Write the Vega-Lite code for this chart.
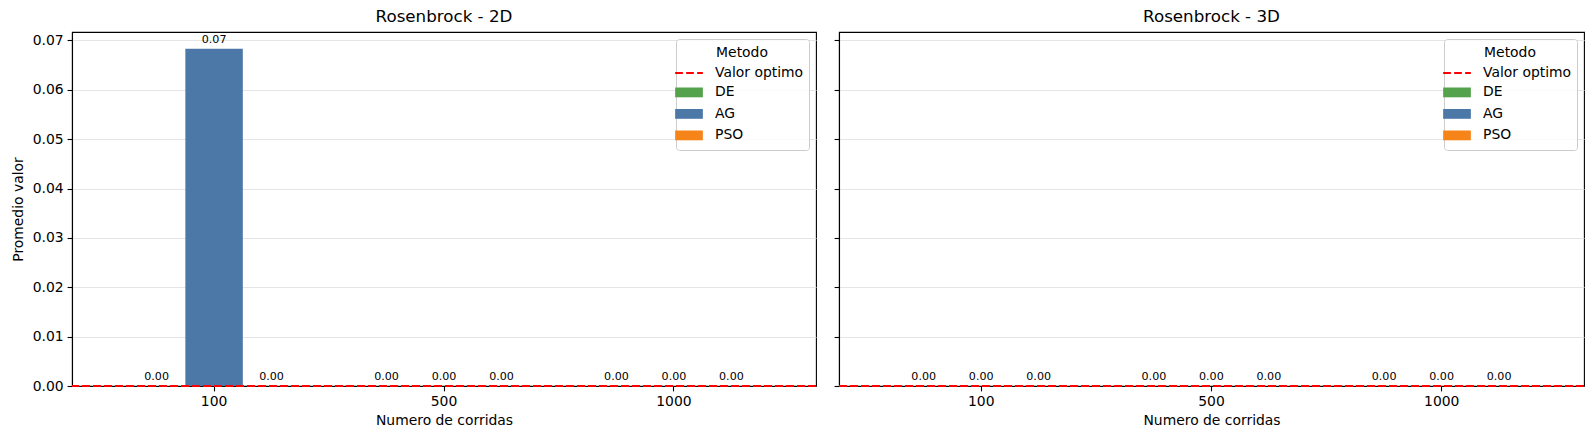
{
  "$schema": "https://vega.github.io/schema/vega-lite/v6.json",
  "description": "Rosenbrock - promedio valor por metodo y numero de corridas",
  "padding": {"left": 10, "top": 8, "right": 4, "bottom": 4},
  "spacing": 15,
  "datasets": {
    "resultados": [
      {"Panel": "2D", "Corridas": "100", "Metodo": "DE", "Valor": 0.0},
      {"Panel": "2D", "Corridas": "100", "Metodo": "AG", "Valor": 0.0683},
      {"Panel": "2D", "Corridas": "100", "Metodo": "PSO", "Valor": 0.0},
      {"Panel": "2D", "Corridas": "500", "Metodo": "DE", "Valor": 0.0},
      {"Panel": "2D", "Corridas": "500", "Metodo": "AG", "Valor": 0.0},
      {"Panel": "2D", "Corridas": "500", "Metodo": "PSO", "Valor": 0.0},
      {"Panel": "2D", "Corridas": "1000", "Metodo": "DE", "Valor": 0.0},
      {"Panel": "2D", "Corridas": "1000", "Metodo": "AG", "Valor": 0.0},
      {"Panel": "2D", "Corridas": "1000", "Metodo": "PSO", "Valor": 0.0},
      {"Panel": "3D", "Corridas": "100", "Metodo": "DE", "Valor": 0.0},
      {"Panel": "3D", "Corridas": "100", "Metodo": "AG", "Valor": 0.0},
      {"Panel": "3D", "Corridas": "100", "Metodo": "PSO", "Valor": 0.0},
      {"Panel": "3D", "Corridas": "500", "Metodo": "DE", "Valor": 0.0},
      {"Panel": "3D", "Corridas": "500", "Metodo": "AG", "Valor": 0.0},
      {"Panel": "3D", "Corridas": "500", "Metodo": "PSO", "Valor": 0.0},
      {"Panel": "3D", "Corridas": "1000", "Metodo": "DE", "Valor": 0.0},
      {"Panel": "3D", "Corridas": "1000", "Metodo": "AG", "Valor": 0.0},
      {"Panel": "3D", "Corridas": "1000", "Metodo": "PSO", "Valor": 0.0}
    ]
  },
  "hconcat": [
    {
      "title": "Rosenbrock - 2D",
      "width": 744,
      "height": 354,
      "data": {"name": "resultados"},
      "transform": [{"filter": "datum.Panel === '2D'"}],
      "encoding": {
        "x": {
          "field": "Corridas", "type": "nominal", "sort": ["100", "500", "1000"],
          "scale": {"paddingInner": 0.25, "paddingOuter": 0.243},
          "axis": {"title": "Numero de corridas", "labelAngle": 0}
        },
        "xOffset": {
          "field": "Metodo", "type": "nominal",
          "scale": {"domain": ["DE", "AG", "PSO"], "paddingInner": 0, "paddingOuter": 0}
        },
        "y": {
          "field": "Valor", "type": "quantitative",
          "scale": {"domain": [0, 0.0717], "nice": false, "zero": true},
          "axis": {"title": "Promedio valor", "format": ".2f", "values": [0, 0.01, 0.02, 0.03, 0.04, 0.05, 0.06, 0.07]}
        }
      },
      "layer": [
        {
          "mark": {"type": "bar"},
          "encoding": {
            "color": {
              "field": "Metodo", "type": "nominal",
              "scale": {"domain": ["Valor optimo", "DE", "AG", "PSO"], "range": ["red", "#54a24b", "#4c78a8", "#f58518"]},
              "legend": {
                "title": "Metodo",
                "orient": "top-right",
                "offset": 7,
                "titleAnchor": "middle",
                "padding": 5,
                "strokeColor": "#cccccc",
                "fillColor": "rgba(255,255,255,0.8)",
                "cornerRadius": 3,
                "symbolSize": 196,
                "labelOffset": 18,
                "rowPadding": 3.5,
                "encode": {
                  "title": {"update": {"dy": {"value": 2}}},
                  "symbols": {
                    "update": {
                      "shape": {"signal": "datum.value === 'Valor optimo' ? 'M-1.98,0H1.98' : 'M-1.98,-0.7H1.98V0.7H-1.98Z'"},
                      "stroke": {"signal": "datum.value === 'Valor optimo' ? 'red' : 'transparent'"},
                      "strokeWidth": {"value": 2},
                      "strokeDash": {"signal": "datum.value === 'Valor optimo' ? [7.7, 3.3] : [1, 0]"},
                      "fill": {"signal": "datum.value === 'Valor optimo' ? 'transparent' : datum.value === 'DE' ? '#54a24b' : datum.value === 'AG' ? '#4c78a8' : '#f58518'"},
                      "opacity": {"value": 1}
                    }
                  }
                }
              }
            }
          }
        },
        {
          "mark": {"type": "text", "baseline": "alphabetic", "dy": -6, "fontSize": 11.1, "color": "black"},
          "encoding": {"text": {"field": "Valor", "type": "quantitative", "format": ".2f"}}
        },
        {
          "mark": {"type": "rule", "color": "red", "strokeDash": [7.7, 3.3], "strokeWidth": 2},
          "encoding": {"y": {"datum": 0}, "x": null, "xOffset": null}
        }
      ]
    },
    {
      "title": "Rosenbrock - 3D",
      "width": 745,
      "height": 354,
      "data": {"name": "resultados"},
      "transform": [{"filter": "datum.Panel === '3D'"}],
      "encoding": {
        "x": {
          "field": "Corridas", "type": "nominal", "sort": ["100", "500", "1000"],
          "scale": {"paddingInner": 0.25, "paddingOuter": 0.243},
          "axis": {"title": "Numero de corridas", "labelAngle": 0}
        },
        "xOffset": {
          "field": "Metodo", "type": "nominal",
          "scale": {"domain": ["DE", "AG", "PSO"], "paddingInner": 0, "paddingOuter": 0}
        },
        "y": {
          "field": "Valor", "type": "quantitative",
          "scale": {"domain": [0, 0.0717], "nice": false, "zero": true},
          "axis": {"title": null, "labels": false, "minExtent": 5, "maxExtent": 5, "values": [0, 0.01, 0.02, 0.03, 0.04, 0.05, 0.06, 0.07]}
        }
      },
      "layer": [
        {
          "mark": {"type": "bar"},
          "encoding": {
            "color": {
              "field": "Metodo", "type": "nominal",
              "scale": {"domain": ["Valor optimo", "DE", "AG", "PSO"], "range": ["red", "#54a24b", "#4c78a8", "#f58518"]},
              "legend": {
                "title": "Metodo",
                "orient": "top-right",
                "offset": 7,
                "titleAnchor": "middle",
                "padding": 5,
                "strokeColor": "#cccccc",
                "fillColor": "rgba(255,255,255,0.8)",
                "cornerRadius": 3,
                "symbolSize": 196,
                "labelOffset": 18,
                "rowPadding": 3.5,
                "encode": {
                  "title": {"update": {"dy": {"value": 2}}},
                  "symbols": {
                    "update": {
                      "shape": {"signal": "datum.value === 'Valor optimo' ? 'M-1.98,0H1.98' : 'M-1.98,-0.7H1.98V0.7H-1.98Z'"},
                      "stroke": {"signal": "datum.value === 'Valor optimo' ? 'red' : 'transparent'"},
                      "strokeWidth": {"value": 2},
                      "strokeDash": {"signal": "datum.value === 'Valor optimo' ? [7.7, 3.3] : [1, 0]"},
                      "fill": {"signal": "datum.value === 'Valor optimo' ? 'transparent' : datum.value === 'DE' ? '#54a24b' : datum.value === 'AG' ? '#4c78a8' : '#f58518'"},
                      "opacity": {"value": 1}
                    }
                  }
                }
              }
            }
          }
        },
        {
          "mark": {"type": "text", "baseline": "alphabetic", "dy": -6, "fontSize": 11.1, "color": "black"},
          "encoding": {"text": {"field": "Valor", "type": "quantitative", "format": ".2f"}}
        },
        {
          "mark": {"type": "rule", "color": "red", "strokeDash": [7.7, 3.3], "strokeWidth": 2},
          "encoding": {"y": {"datum": 0}, "x": null, "xOffset": null}
        }
      ]
    }
  ],
  "resolve": {
    "scale": {"x": "independent", "y": "independent", "color": "independent"},
    "legend": {"color": "independent"}
  },
  "config": {
    "font": "DejaVu Sans",
    "view": {"stroke": "black", "strokeWidth": 1.1},
    "title": {"fontSize": 16.7, "fontWeight": "normal", "color": "black", "offset": 6, "baseline": "alphabetic", "anchor": "middle"},
    "axis": {
      "domainColor": "black", "domainWidth": 1.1, "tickColor": "black", "tickSize": 4.9, "tickWidth": 1.1,
      "labelColor": "black", "labelFontSize": 13.9, "labelPadding": 4,
      "titleColor": "black", "titleFontSize": 13.9, "titleFontWeight": "normal"
    },
    "axisX": {"grid": false, "titlePadding": 5},
    "axisY": {"grid": true, "gridColor": "#e5e5e5", "gridWidth": 1, "titlePadding": 7},
    "legend": {
      "labelFontSize": 13.9, "labelColor": "black", "titleFontSize": 13.9,
      "titleFontWeight": "normal", "titleColor": "black", "titlePadding": 7
    }
  }
}
